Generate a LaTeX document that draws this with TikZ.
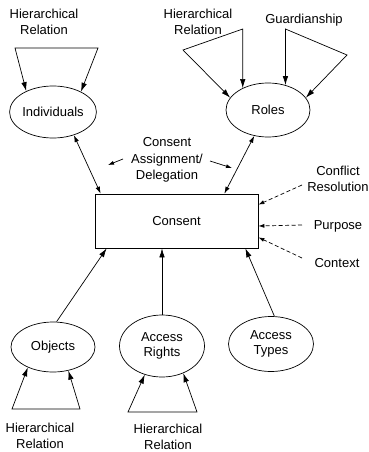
\documentclass[tikz,border=0pt]{standalone}
\usepackage{fontspec}
\setmainfont{Liberation Sans}
\usetikzlibrary{arrows.meta,shapes.geometric}
\begin{document}
\begin{tikzpicture}[x=1pt,y=-1pt, line width=0.7pt,
  font=\fontsize{13}{15.5}\selectfont,
  ell/.style={draw, ellipse, minimum width=84pt, minimum height=52pt, inner sep=0pt, align=center},
  lbl/.style={align=center, inner sep=0pt},
  arr/.style={-{Latex[length=9pt,width=5.5pt]}},
  darr/.style={{Latex[length=9pt,width=5.5pt]}-{Latex[length=9pt,width=5.5pt]}},
  sarr/.style={{Latex[length=7pt,width=4.5pt]}-{Latex[length=7pt,width=4.5pt]}},
  smallarr/.style={-{Latex[length=6pt,width=4pt]}},
  dasharr/.style={-{Latex[length=6pt,width=4pt]}, dash pattern=on 4pt off 2.5pt}
]
\useasboundingbox (0,0) rectangle (368,452);

% main nodes
\node[ell] (ind) at (53,112) {Individuals};
\node[ell, minimum height=54pt] (rol) at (268,110) {Roles};
\node[draw, minimum width=163pt, minimum height=54pt] (con) at (176.5,221) {Consent};
\node[ell, minimum height=50pt] (obj) at (53,347) {Objects};
\node[ell, minimum width=85pt, minimum height=62pt] (ar) at (162,346) {Access\\Rights};
\node[ell, minimum width=85pt, minimum height=55pt] (at) at (271,344) {Access\\Types};

% labels
\node[lbl] (hr1) at (44,22) {Hierarchical\\Relation};
\node[lbl] (hr2) at (198,22) {Hierarchical\\Relation};
\node[lbl] (gu) at (304,20) {Guardianship};
\node[lbl] (cad) at (167,160) {Consent\\[1pt]Assignment/\\[1pt]Delegation};
\node[lbl] (cr) at (338,179) {Conflict\\Resolution};
\node[lbl] (pu) at (338,226) {Purpose};
\node[lbl] (cx) at (337,263) {Context};
\node[lbl] (hr3) at (40,436) {Hierarchical\\Relation};
\node[lbl] (hr4) at (168,437) {Hierarchical\\Relation};

% top-left triangle
\coordinate (t1a) at (15,48);
\coordinate (t1b) at (98,48);
\draw[darr] (ind.142) -- (t1a) -- (t1b) -- (ind.36);

% roles hierarchical relation
\coordinate (ty) at (0,29);
\coordinate (t2a) at (183,50);
\coordinate (t2b) at (rol.139 |- ty);
\draw[darr] (rol.162) -- (t2a) -- (t2b) -- (rol.139);

% guardianship
\coordinate (g1) at (rol.55 |- ty);
\coordinate (g2) at (347,55);
\draw[darr] (rol.55) -- (g1) -- (g2) -- (rol.18);

% consent assignment
\draw[sarr] (ind.-48) -- ([xshift=6pt]con.north west);
\draw[sarr] (rol.-118) -- ([xshift=-34pt]con.north east);
\coordinate (s1a) at (123,159);
\coordinate (s1b) at (108,165);
\coordinate (s2a) at (210,161);
\coordinate (s2b) at (232,168);
\draw[smallarr] (s1a) -- (s1b);
\draw[smallarr] (s2a) -- (s2b);

% dashed
\coordinate (d1) at (302,185);
\coordinate (d2) at (302,225);
\coordinate (d3) at (302,258);
\draw[dasharr] (d1) -- ([yshift=-11pt]con.north east);
\draw[dasharr] (d2) -- ([yshift=-5pt]con.east);
\draw[dasharr] (d3) -- ([yshift=11pt]con.south east);

% bottom connectors
\draw[arr] (obj.82) -- ([xshift=12pt]con.south west);
\draw[arr] (ar.north) -- (ar.north |- con.south);
\draw[arr] (at.83) -- ([xshift=-13pt]con.south east);

% bottom triangles
\coordinate (b1a) at (12,409);
\coordinate (b1b) at (80,409);
\draw[darr] (obj.219) -- (b1a) -- (b1b) -- (obj.303);
\coordinate (b2a) at (128,412);
\coordinate (b2b) at (197,412);
\draw[darr] (ar.239) -- (b2a) -- (b2b) -- (ar.308);
\end{tikzpicture}
\end{document}
